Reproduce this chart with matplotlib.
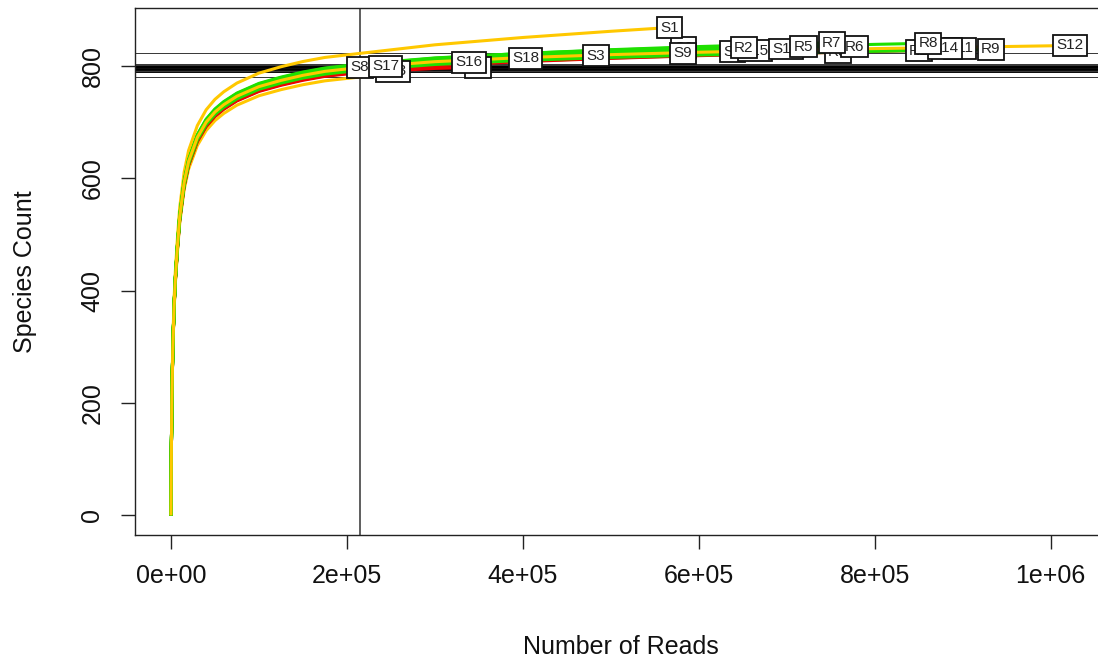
import numpy as np
import matplotlib
matplotlib.use("Agg")
import matplotlib.pyplot as plt

plt.rcParams['font.family'] = ['Liberation Sans', 'DejaVu Sans']

# Typical rarefaction shape: expected species vs. number of reads subsampled
curve_reads = np.array([0, 500, 1000, 2000, 3500, 5000, 7500, 10000, 15000, 20000,
                        30000, 40000, 50000, 60000, 75000, 100000, 125000, 150000,
                        175000, 215000, 300000, 400000, 500000, 600000, 800000, 1022000])
curve_species = np.array([0, 120, 200, 290, 370, 420, 480, 530, 590, 627,
                          670, 697, 715, 728, 743, 760, 771, 780,
                          787, 794, 804, 811, 816, 820, 826, 831])

# Per-library results (listed in the order the labels are stacked)
samples = ["S8", "S13", "S17", "S2", "S16", "S18", "S3", "S6", "S9", "S1",
           "S4", "S15", "R2", "S10", "R5", "R3", "R6", "R7", "R1", "S11",
           "S14", "R8", "R9", "S12"]
total_reads = [215000, 252000, 244000, 349000, 339000, 403000, 483000, 583000, 582000, 567000,
               638000, 664000, 651000, 699000, 719000, 758000, 777000, 751000, 850000, 897000,
               880000, 861000, 932000, 1022000]
total_species = [797, 790, 799, 797, 806, 813, 818, 832, 822, 868,
                 825, 827, 832, 830, 834, 824, 834, 841, 827, 831,
                 831, 840, 829, 836]
# expected species when every library is subsampled to the smallest depth
rarefied_species = [797, 780, 796, 788, 798, 800, 799, 803, 795, 822,
                    793, 794, 799, 796, 798, 790, 797, 802, 789, 794,
                    795, 800, 792, 797]
groups = ["B", "C", "A", "B", "A", "A", "A", "A", "A", "C",
          "A", "A", "A", "A", "A", "A", "A", "A", "B", "A",
          "A", "A", "A", "C"]
subsample_depth = 215000

x_ticks = [0, 200000, 400000, 600000, 800000, 1000000]
x_tick_labels = ["0e+00", "2e+05", "4e+05", "6e+05", "8e+05", "1e+06"]
y_ticks = [0, 200, 400, 600, 800]
y_tick_labels = ["0", "200", "400", "600", "800"]

group_colors = {"A": "#1FE000", "B": "#F00000", "C": "#FFC800"}

fig = plt.figure(figsize=(10.98, 6.6), dpi=100)
ax = fig.add_axes([0.12295, 0.1894, 0.8843, 0.7985])

xmax = max(total_reads)
ymax = max(total_species)
ax.set_xlim(-0.04 * xmax, 1.04 * xmax)
ax.set_ylim(-0.04 * ymax, 1.04 * ymax)

# reference lines at the subsample depth and the rarefied richness
ax.axvline(subsample_depth, color="#333333", lw=1.1, zorder=1)
for r in rarefied_species:
    ax.axhline(r, color="black", lw=0.55, zorder=1)

base_at_sub = np.interp(subsample_depth, curve_reads, curve_species)
for name, n, s, r, g in zip(samples, total_reads, total_species, rarefied_species, groups):
    k_sub = r / base_at_sub
    k_end = s / np.interp(n, curve_reads, curve_species)
    xs = np.append(curve_reads[curve_reads < n], n)
    base = np.interp(xs, curve_reads, curve_species)
    if n > subsample_depth:
        frac = np.clip((xs - subsample_depth) / (n - subsample_depth), 0, 1)
    else:
        frac = np.zeros_like(xs, dtype=float)
    ys = base * (k_sub + (k_end - k_sub) * frac)
    ax.plot(xs, ys, color=group_colors[g], lw=2.2, zorder=2, solid_capstyle="butt")

for i, (name, n, s) in enumerate(zip(samples, total_reads, total_species)):
    ax.text(n, s, name, ha="center", va="center", fontsize=11, color="#222222",
            zorder=10 + i,
            bbox=dict(boxstyle="square,pad=0.22", fc="white", ec="#111111", lw=1.3))

ax.set_xticks(x_ticks)
ax.set_xticklabels(x_tick_labels)
ax.set_yticks(y_ticks)
ax.set_yticklabels(y_tick_labels, rotation=90, va="center")
ax.tick_params(axis="both", length=10, width=1.0, color="#222222",
               labelsize=18, labelcolor="#111111")
ax.tick_params(axis="x", pad=11)
ax.tick_params(axis="y", pad=12)
for sp in ax.spines.values():
    sp.set_linewidth(1.0)
    sp.set_color("#222222")

ax.text(0.5, -0.2125, "Number of Reads", transform=ax.transAxes,
        ha="center", va="center", fontsize=18, color="#111111")
ax.text(-0.1133, 0.5, "Species Count", transform=ax.transAxes, rotation=90,
        ha="center", va="center", fontsize=18, color="#111111")

fig.savefig("out.png", dpi=100)
